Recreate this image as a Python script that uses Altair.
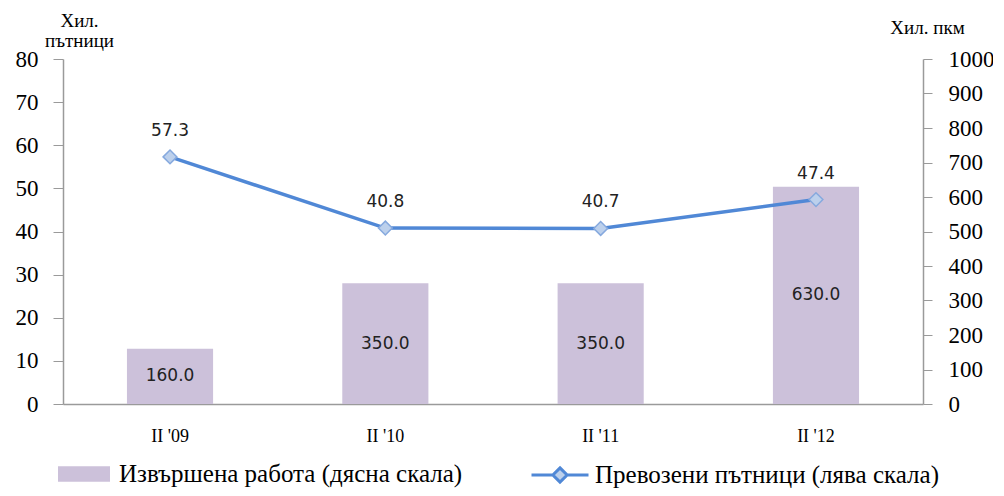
import altair as alt
import pandas as pd

quarters = ["II '09", "II '10", "II '11", "II '12"]
work = [160.0, 350.0, 350.0, 630.0]
passengers = [57.3, 40.8, 40.7, 47.4]
bar_name = "Извършена работа (дясна скала)"
line_name = "Превозени пътници (лява скала)"

df = pd.DataFrame({
    "q": quarters,
    "work": work,
    "half": [w / 2 for w in work],
    "pass": passengers,
    "bar_s": [bar_name] * 4,
    "line_s": [line_name] * 4,
})

SERIF = "Liberation Serif"
SANS = "DejaVu Sans"

x = alt.X("q:N", sort=quarters, title=None,
          scale=alt.Scale(paddingInner=0.6, paddingOuter=0.297),
          axis=alt.Axis(labelAngle=0, ticks=False, labelPadding=23, labelFont=SERIF,
                        labelFontSize=18, labelColor="#000", domainColor="#9a9a9a",
                        domainWidth=1.5))

yR = alt.Scale(domain=[0, 1000])
yL = alt.Scale(domain=[0, 80])

base = alt.Chart(df)

bars = base.mark_bar(color="#ccc1da").encode(
    x=x,
    y=alt.Y("work:Q", scale=yR, title="Хил. пкм",
            axis=alt.Axis(orient="right", values=list(range(0, 1001, 100)), format="d",
                          grid=False, tickSize=9, labelPadding=16, labelFont=SERIF,
                          labelFontSize=23, labelColor="#000", domainColor="#9a9a9a",
                          tickColor="#9a9a9a", domainWidth=1.5, titleAngle=0,
                          titleAlign="center", titleX=4, titleY=-26, titleFont=SERIF,
                          titleFontSize=19, titleFontWeight="normal", titleColor="#000",
                          titleBaseline="alphabetic")),
    fill=alt.Fill("bar_s:N", scale=alt.Scale(domain=[bar_name], range=["#ccc1da"]),
                  legend=alt.Legend(title=None, orient="none", legendX=-5, legendY=389,
                                    symbolType="M-1,-0.3H1V0.3H-1Z", symbolSize=2704,
                                    labelFont=SERIF, labelFontSize=25, labelLimit=600,
                                    labelOffset=9, labelColor="#000", symbolStrokeWidth=0)),
)

bar_text = base.mark_text(font=SANS, fontSize=17, color="#222", baseline="middle").encode(
    x=x,
    y=alt.Y("half:Q", scale=yR, axis=None),
    text=alt.Text("work:Q", format=".1f"),
)

line = base.mark_line(strokeWidth=3.5).encode(
    x=x,
    y=alt.Y("pass:Q", scale=yL, title=["Хил.", "пътници"],
            axis=alt.Axis(orient="left", values=list(range(0, 81, 10)), grid=False,
                          tickSize=10, labelPadding=15, labelFont=SERIF, labelFontSize=23,
                          labelColor="#000", domainColor="#9a9a9a", tickColor="#9a9a9a",
                          domainWidth=1.5, titleAngle=0, titleAlign="center", titleX=16,
                          titleY=-33, titleFont=SERIF, titleFontSize=19,
                          titleFontWeight="normal", titleColor="#000",
                          titleBaseline="alphabetic", titleLineHeight=20)),
    stroke=alt.Stroke("line_s:N", scale=alt.Scale(domain=[line_name], range=["#5088d6"]),
                      legend=alt.Legend(title=None, orient="none", legendX=467, legendY=386,
                                        symbolType="M-1,0H-0.25M0.25,0H1M0,-0.25L0.25,0L0,0.25L-0.25,0Z",
                                        symbolSize=3249, symbolFillColor="#bcd0ec",
                                        symbolStrokeWidth=3, labelFont=SERIF, labelOffset=5,
                                        labelFontSize=25, labelLimit=600, labelColor="#000")),
)

points = base.mark_point(shape="diamond", size=190, filled=True, fill="#bcd0ec",
                         stroke="#86a9de", strokeWidth=1.5, opacity=1).encode(
    x=x,
    y=alt.Y("pass:Q", scale=yL, axis=None),
)

line_text = base.mark_text(font=SANS, fontSize=17, color="#222", baseline="middle", dy=-26).encode(
    x=x,
    y=alt.Y("pass:Q", scale=yL, axis=None),
    text=alt.Text("pass:Q", format=".1f"),
)

chart = alt.layer(bars, bar_text, line, points, line_text).resolve_scale(
    y="independent"
).properties(
    width=860, height=345,
    autosize=alt.AutoSizeParams(type="none"),
    padding={"left": 55, "top": 51, "right": 70, "bottom": 84},
).configure_view(stroke=None)

chart.save("out.html", embed_options={"renderer": "svg", "actions": False})
